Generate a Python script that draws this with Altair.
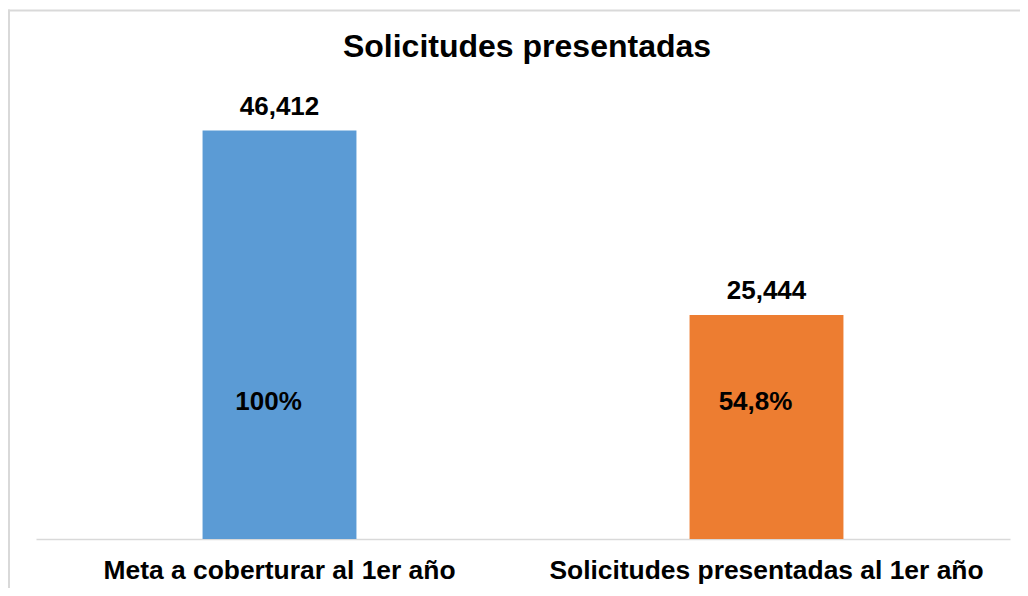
import altair as alt
import pandas as pd

categories = ["Meta a coberturar al 1er año", "Solicitudes presentadas al 1er año"]
values = [46412, 25444]
percents = ["100%", "54,8%"]
colors = ["#5B9BD5", "#ED7D31"]

df = pd.DataFrame({"cat": categories, "val": values, "pct": percents})

FONT = "Liberation Sans"
W, H = 974, 440

x_enc = alt.X("cat:N", sort=categories, title=None,
              scale=alt.Scale(paddingInner=0.684, paddingOuter=0.342),
              axis=alt.Axis(labelAngle=0, labelFont=FONT, labelFontSize=26.4,
                            labelFontWeight="bold", labelColor="#000000",
                            labelBaseline="alphabetic", labelPadding=39,
                            ticks=False, tickSize=0, domainColor="#d9d9d9",
                            domainWidth=1.5, labelLimit=600, grid=False))
y_enc = alt.Y("val:Q", scale=alt.Scale(domain=[0, 50000], nice=False), axis=None)

base = alt.Chart(df)

bars = base.mark_bar().encode(
    x=x_enc, y=y_enc,
    color=alt.Color("cat:N", scale=alt.Scale(domain=categories, range=colors), legend=None),
)

vals = base.mark_text(font=FONT, fontSize=26, fontWeight="bold", color="#000000",
                      baseline="alphabetic", dy=-16).encode(
    x=alt.X("cat:N", sort=categories), y="val:Q", text=alt.Text("val:Q", format=",d"))

pcts = base.mark_text(font=FONT, fontSize=26, fontWeight="bold", color="#000000",
                      baseline="alphabetic", dx=-11).encode(
    x=alt.X("cat:N", sort=categories), y=alt.value(311), text="pct:N")

one = pd.DataFrame({"a": [0]})
border_top = alt.Chart(one).mark_rule(color="#d9d9d9", strokeWidth=2).encode(
    x=alt.value(-28), x2=alt.value(W + 10), y=alt.value(-88.5))
border_left = alt.Chart(one).mark_rule(color="#d9d9d9", strokeWidth=2).encode(
    x=alt.value(-27), y=alt.value(-89.5), y2=alt.value(H + 60))

chart = alt.layer(border_top, border_left, bars, vals, pcts).properties(
    width=W, height=H,
    title=alt.TitleParams("Solicitudes presentadas", font=FONT, fontSize=32,
                          fontWeight="bold", color="#000000", anchor="middle",
                          baseline="alphabetic", offset=-80, dx=4),
    autosize=alt.AutoSizeParams(type="none"),
    padding={"left": 28, "right": 10, "top": 91, "bottom": 49},
).configure(background="#ffffff").configure_view(strokeWidth=0, stroke=None)

chart.save("out.html", embed_options={"renderer": "svg", "actions": False})
